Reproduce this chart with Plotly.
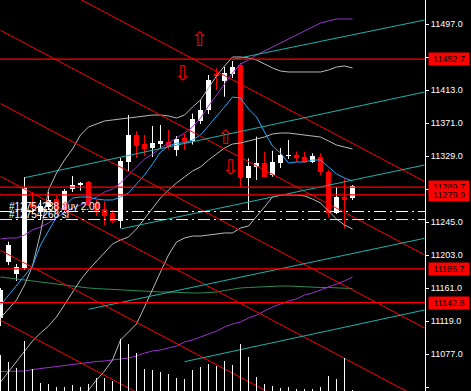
import plotly.graph_objects as go

# ---------------- data ----------------
bars = list(range(45))
opens = [11123.2, 11194.8, 11179.2, 11186.8, 11270.8, 11258.1, 11264.5, 11274.6, 11260.6, 11287.4,
         11292.5, 11296.7, 11269.5, 11261.9, 11256.8, 11247.0, 11322.1, 11356.1, 11344.6, 11339.2,
         11344.6, 11347.6, 11337.0, 11351.9, 11348.5, 11373.9, 11387.9, 11433.7, 11424.8, 11433.7,
         11445.2, 11301.0, 11315.7, 11320.1, 11305.2, 11320.8, 11329.4, 11330.6, 11328.7, 11322.1,
         11328.7, 11309.4, 11256.4, 11277.6, 11275.5]
highs = [11161.4, 11220.3, 11191.9, 11302.6, 11283.5, 11273.4, 11283.5, 11278.5, 11287.4, 11303.9,
         11296.3, 11297.5, 11273.4, 11272.1, 11260.6, 11326.8, 11381.5, 11361.2, 11356.1, 11367.5,
         11368.8, 11362.5, 11354.8, 11357.4, 11383.4, 11400.6, 11432.4, 11441.0, 11442.6, 11450.3,
         11447.7, 11326.4, 11353.9, 11334.4, 11336.1, 11339.5, 11349.7, 11335.1, 11334.8, 11332.8,
         11332.8, 11311.5, 11289.9, 11301.0, 11292.5]
lows = [11113.0, 11190.6, 11170.3, 11184.3, 11255.5, 11247.9, 11260.6, 11256.8, 11258.1, 11283.5,
        11285.2, 11265.7, 11253.0, 11241.5, 11244.1, 11237.7, 11310.3, 11326.8, 11329.4, 11328.1,
        11339.5, 11338.3, 11329.4, 11337.0, 11344.0, 11370.1, 11382.8, 11413.4, 11404.8, 11428.6,
        11289.9, 11260.6, 11298.8, 11302.6, 11303.0, 11314.1, 11325.5, 11321.7, 11320.4, 11320.4,
        11305.2, 11251.7, 11255.5, 11237.3, 11273.4]
closes = [11158.8, 11216.1, 11188.1, 11288.6, 11263.2, 11265.7, 11273.4, 11260.6, 11284.8, 11292.5,
          11295.0, 11267.0, 11258.5, 11253.0, 11246.6, 11323.0, 11356.1, 11342.1, 11338.3, 11345.9,
          11348.5, 11340.8, 11351.0, 11347.6, 11376.1, 11387.9, 11426.1, 11431.8, 11435.4, 11443.0,
          11301.0, 11316.6, 11320.1, 11303.0, 11322.1, 11330.6, 11330.6, 11326.8, 11322.1, 11329.4,
          11309.4, 11256.4, 11277.6, 11274.0, 11291.2]
volumes = [900, 725, 575, 1250, 550, 200, 175, 100, 100, 150, 100, 175, 325, 325, 250, 1300, 1175,
           950, 550, 525, 475, 425, 325, 300, 525, 600, 675, 625, 750, 650, 1175, 850, 350, 175,
           125, 75, 100, 50, 50, 50, 100, 375, 300, 825, 25]

bb_upper = [11123.2, 11134.6, 11146.1, 11165.2, 11189.4, 11231.4, 11286.1, 11307.7, 11324.3, 11338.3,
            11356.1, 11366.3, 11370.1, 11373.9, 11375.2, 11376.5, 11377.7, 11379.0, 11380.3, 11381.5,
            11381.5, 11380.3, 11377.7, 11381.5, 11391.7, 11400.6, 11415.9, 11431.2, 11443.9, 11455.4,
            11455.4, 11454.1, 11451.5, 11446.4, 11441.4, 11437.5, 11436.3, 11436.3, 11436.3, 11436.3,
            11436.3, 11438.8, 11442.6, 11443.9, 11441.4]
bb_middle = [11041.7, 11054.5, 11067.2, 11079.9, 11093.9, 11104.1, 11113.0, 11124.5, 11139.7, 11156.3,
             11171.5, 11184.3, 11195.7, 11207.2, 11217.4, 11222.5, 11226.3, 11236.5, 11249.2, 11263.2,
             11275.9, 11286.1, 11295.0, 11302.6, 11310.3, 11315.4, 11324.3, 11331.9, 11339.5, 11344.6,
             11345.9, 11348.5, 11351.0, 11353.5, 11357.4, 11358.6, 11358.6, 11357.4, 11356.1, 11354.8,
             11353.5, 11348.5, 11343.4, 11340.8, 11338.3]
bb_lower = [10967.9, 10970.5, 10967.9, 10961.6, 10952.6, 10948.8, 10955.2, 10971.7, 10987.0, 11002.3,
            11017.6, 11031.6, 11044.3, 11055.7, 11069.7, 11095.2, 11105.4, 11115.6, 11137.2, 11160.1,
            11181.7, 11203.4, 11219.9, 11225.0, 11227.5, 11227.5, 11228.8, 11230.1, 11231.4, 11231.4,
            11237.7, 11240.3, 11251.7, 11264.5, 11277.2, 11279.7, 11279.7, 11279.7, 11278.5, 11274.6,
            11269.5, 11259.4, 11249.2, 11241.5, 11236.5]
ma_fast = [11139.7, 11152.5, 11165.2, 11176.6, 11189.4, 11216.1, 11233.9, 11251.7, 11265.7, 11275.9,
           11277.2, 11277.2, 11274.6, 11273.4, 11273.4, 11277.2, 11282.3, 11293.7, 11305.2, 11319.2,
           11334.4, 11342.1, 11345.9, 11345.9, 11349.7, 11356.1, 11367.5, 11380.3, 11391.7, 11404.4,
           11403.2, 11389.2, 11379.0, 11359.9, 11342.1, 11333.2, 11320.4, 11321.7, 11321.7, 11324.3,
           11324.3, 11315.4, 11306.5, 11301.4, 11297.5]
band2_upper = [11223.7, 11225.0, 11225.0, 11228.8, 11235.2, 11239.0, 11244.1, 11251.7, 11256.8, 11263.2,
               11267.0, 11272.1, 11277.2, 11283.5, 11287.4, 11295.0, 11305.2, 11315.4, 11325.5, 11331.9,
               11339.5, 11345.9, 11352.3, 11358.6, 11366.3, 11377.7, 11393.0, 11407.0, 11419.7, 11435.0,
               11446.4, 11451.5, 11457.9, 11463.0, 11468.1, 11473.2, 11478.3, 11483.4, 11488.5, 11493.5,
               11498.6, 11501.2, 11503.7, 11503.7, 11503.7]
band2_lower = [11055.1, 11055.1, 11055.1, 11055.7, 11057.6, 11058.9, 11060.8, 11062.1, 11063.4, 11064.6,
               11065.9, 11066.5, 11067.8, 11068.5, 11069.7, 11070.4, 11072.3, 11074.8, 11078.6, 11081.2,
               11082.5, 11085.0, 11087.5, 11092.6, 11095.2, 11099.0, 11102.8, 11106.6, 11111.7, 11115.6,
               11118.1, 11123.2, 11127.0, 11132.1, 11137.2, 11141.0, 11144.8, 11147.4, 11152.5, 11155.0,
               11158.8, 11162.6, 11166.5, 11170.3, 11175.4]
ma_slow = [11175.4, 11174.1, 11172.8, 11171.5, 11170.3, 11169.0, 11167.7, 11166.5, 11165.2, 11163.9,
           11162.6, 11161.4, 11160.7, 11160.1, 11159.5, 11158.8, 11158.2, 11157.5, 11157.5, 11156.9,
           11156.3, 11156.3, 11155.6, 11155.0, 11155.0, 11155.0, 11155.6, 11156.3, 11158.2, 11160.1,
           11161.4, 11162.0, 11162.6, 11163.3, 11163.9, 11163.9, 11163.9, 11163.3, 11162.6, 11162.6,
           11162.0, 11162.0, 11161.4, 11161.4, 11160.7]

hline_prices = [11452.7, 11289.7, 11279.9, 11185.7, 11142.8]
order_prices = [11258.7, 11248.5]
order_labels = ["#12754238 buy 2.00", "#12754268 sl"]

# descending red channel lines: price at bar 0 and at bar 53
red_start_prices = [11582.6, 11489.3, 11396.0, 11303.5, 11209.3, 11120.3]
red_end_prices = [11297.0, 11203.7, 11110.5, 11017.9, 10923.7, 10834.7]
red_start_bar, red_end_bar = 0, 53

# ascending cyan trend lines: start bar, start price, end bar, end price
cyan_start_bars = [3, 29, 15, 11, 23]
cyan_start_prices = [11301.7, 11452.2, 11236.5, 11134.3, 11067.6]
cyan_end_bars = [53, 53, 53, 53, 53]
cyan_end_prices = [11410.8, 11502.4, 11317.9, 11224.6, 11133.4]

# arrow objects: bar position, price, glyph
arrow_bars = [24.9, 22.7, 28.1, 28.7, 8.1]
arrow_prices = [11478.3, 11435.0, 11353.5, 11315.4, 11265.7]
arrow_glyphs = ["⇧", "⇩", "⇧", "⇩", "⇧"]
arrow_sizes = [20, 20, 20, 20, 13]

tick_values = [11035, 11077, 11119, 11161, 11203, 11245, 11287, 11329, 11371, 11413, 11455, 11497]
hidden_ticks = [11287, 11455]

price_range = [11030.3, 11527.9]
bar_range = [-0.0625, 53.0625]

# ---------------- figure ----------------
RED = "#ff0000"
fig = go.Figure()

# volume (overlay axis at the bottom)
fig.add_trace(go.Bar(x=bars, y=volumes, yaxis="y2", width=0.125,
                     marker=dict(color="white", line=dict(width=0)), hoverinfo="skip"))

up = [i for i in bars if closes[i] >= opens[i]]
dn = [i for i in bars if closes[i] < opens[i]]

def body(idx):
    base = [min(opens[i], closes[i]) for i in idx]
    h = [max(abs(closes[i] - opens[i]), 0.9) for i in idx]
    return base, h

b, h = body(up)
fig.add_trace(go.Bar(x=up, y=h, base=b, width=0.625,
                     marker=dict(color="white", line=dict(width=0)), hoverinfo="skip"))
b, h = body(dn)
fig.add_trace(go.Bar(x=dn, y=h, base=b, width=0.625,
                     marker=dict(color=RED, line=dict(width=0)), hoverinfo="skip"))

def wicks(idx):
    xs, ys = [], []
    for i in idx:
        xs += [i, i, None]
        ys += [lows[i], highs[i], None]
    return xs, ys

for idx, col in ((up, "white"), (dn, RED)):
    xs, ys = wicks(idx)
    fig.add_trace(go.Scatter(x=xs, y=ys, mode="lines", line=dict(color=col, width=1),
                             hoverinfo="skip"))

# indicators
def curve(vals, col):
    fig.add_trace(go.Scatter(x=bars, y=vals, mode="lines", line=dict(color=col, width=1),
                             hoverinfo="skip"))

curve(ma_slow, "#2e8b57")
curve(band2_upper, "#9932cc")
curve(band2_lower, "#9932cc")
curve(bb_upper, "#b8b8b8")
curve(bb_middle, "#b8b8b8")
curve(bb_lower, "#b8b8b8")
curve(ma_fast, "#1eaaff")

# trend lines
for s, e in zip(red_start_prices, red_end_prices):
    fig.add_trace(go.Scatter(x=[red_start_bar, red_end_bar], y=[s, e], mode="lines",
                             line=dict(color=RED, width=1), hoverinfo="skip"))
for sb, sp, eb, ep in zip(cyan_start_bars, cyan_start_prices, cyan_end_bars, cyan_end_prices):
    fig.add_trace(go.Scatter(x=[sb, eb], y=[sp, ep], mode="lines",
                             line=dict(color="#20b2aa", width=1), hoverinfo="skip"))

shapes = []
for p in hline_prices:
    shapes.append(dict(type="line", xref="paper", x0=0, x1=1, yref="y", y0=p, y1=p,
                       line=dict(color=RED, width=1.2), layer="above"))
for p, col in zip(order_prices, ["#ffffff", "#d8f4f4"]):
    shapes.append(dict(type="line", xref="paper", x0=0, x1=1, yref="y", y0=p, y1=p,
                       line=dict(color=col, width=1, dash="12px,4px,2px,4px"), layer="above"))

annotations = []
for p, t in zip(order_prices, order_labels):
    annotations.append(dict(x=0.8, y=p, xref="x", yref="y", text=t, showarrow=False,
                            xanchor="left", yanchor="bottom", yshift=-2,
                            font=dict(color="white", size=10, family="Liberation Sans")))
for bx, py, g, s in zip(arrow_bars, arrow_prices, arrow_glyphs, arrow_sizes):
    annotations.append(dict(x=bx, y=py, xref="x", yref="y", text=g, showarrow=False,
                            font=dict(color=RED, size=s, family="DejaVu Sans")))
for p in hline_prices:
    annotations.append(dict(x=1, y=p, xref="paper", yref="y", text=f"{p:.1f}", showarrow=False,
                            xanchor="left", xshift=3, bgcolor=RED, borderpad=1, width=38,
                            font=dict(color="black", size=9, family="Liberation Sans")))

fig.update_layout(
    width=471, height=391,
    margin=dict(l=0, r=46, t=0, b=0, pad=0),
    paper_bgcolor="black", plot_bgcolor="black",
    showlegend=False, barmode="overlay", bargap=0,
    shapes=shapes, annotations=annotations,
    xaxis=dict(range=bar_range, showgrid=False, zeroline=False, showticklabels=False,
               ticks="", showline=False, fixedrange=True),
    yaxis=dict(range=price_range, side="right", showgrid=False, zeroline=False,
               automargin=False, tickvals=tick_values,
               ticktext=["" if v in hidden_ticks else f"{v:.1f}" for v in tick_values],
               ticks="outside", ticklen=3, tickcolor="white",
               showline=True, linecolor="white", linewidth=1,
               tickfont=dict(color="white", size=9, family="Liberation Sans")),
    yaxis2=dict(range=[0, 9775], overlaying="y", visible=False, fixedrange=True),
)

fig.write_html("out.html", config={"displayModeBar": False},
               post_script="document.body.style.margin='0';document.body.style.overflow='hidden';")
